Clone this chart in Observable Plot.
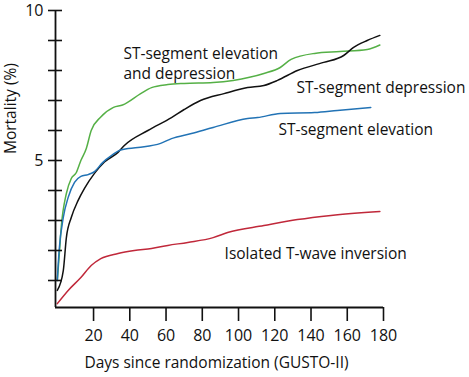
<!DOCTYPE html>
<html>
<head>
<meta charset="utf-8">
<script src="https://cdn.jsdelivr.net/npm/d3@7"></script>
<script src="https://cdn.jsdelivr.net/npm/@observablehq/plot@0.6"></script>
<style>
  html, body { margin: 0; padding: 0; background: #fff; }
  svg { display: block; }
</style>
</head>
<body>
<div id="chart"></div>
<script>
const FONT = "Open Sans";

// series: [day, mortality %]
const stElevDep = [
  [0, 1.0], [1, 1.8], [2.2, 2.8], [5, 3.9], [7.7, 4.4], [10.5, 4.6], [13, 5.0], [16, 5.4],
  [18.7, 6.0], [24, 6.45], [31, 6.77], [36, 6.85], [46, 7.23], [52, 7.43], [61, 7.53],
  [70, 7.57], [86, 7.6], [97, 7.67], [114, 7.9], [123, 8.1], [129, 8.37], [142, 8.57],
  [156, 8.63], [171, 8.7], [178, 8.85]
];
const stDep = [
  [0, 0.67], [3.3, 1.33], [5, 2.43], [7.7, 3.1], [11.5, 3.67], [15, 4.07], [20.5, 4.57],
  [26, 4.95], [33.5, 5.27], [37, 5.5], [50, 6.0], [63, 6.43], [70, 6.7], [79, 7.0],
  [92, 7.23], [105, 7.43], [114, 7.5], [121.5, 7.67], [132.5, 8.0], [147, 8.27],
  [158, 8.5], [163.5, 8.77], [171, 9.0], [178, 9.17]
];
const stElev = [
  [0, 1.0], [1, 2.0], [3.3, 3.1], [6, 3.77], [9.5, 4.27], [13, 4.47], [17, 4.53],
  [20.5, 4.63], [25, 4.93], [30, 5.17], [35, 5.35], [44.5, 5.43], [57, 5.57], [63, 5.73],
  [74, 5.9], [86, 6.1], [105, 6.4], [110.5, 6.43], [123, 6.57], [142, 6.6],
  [154.5, 6.67], [173, 6.77]
];
const tWave = [
  [0, 0.23], [6, 0.67], [13, 1.1], [18.7, 1.5], [24, 1.73], [33.5, 1.9], [42.5, 2.0],
  [52, 2.07], [61, 2.17], [72, 2.27], [86, 2.43], [94, 2.6], [114, 2.83], [132.5, 3.03],
  [151, 3.17], [178, 3.3]
];

const seriesNames = ["ST-segment elevation\nand depression", "ST-segment depression", "ST-segment elevation", "Isolated T-wave inversion"];
const seriesColors = ["#55b046", "#111111", "#2273b5", "#c0283a"];
const seriesData = [stElevDep, stDep, stElev, tWave];
// label anchor points [day, mortality]
const labelAnchors = [[36.5, 8.27], [132, 7.47], [122, 6.07], [92.3, 1.93]];

const xTicks = [20, 40, 60, 80, 100, 120, 140, 160, 180];
const yTicks = [1, 2, 3, 4, 5, 6, 7, 8, 9, 10];
const yTickLabels = [5, 10];
const xTitle = "Days since randomization (GUSTO-II)";
const yTitle = "Mortality (%)";

const rows = seriesData.flatMap((s, i) => s.map(([day, v]) => ({day, v, series: i})));
const labels = seriesNames.map((name, i) => ({name, day: labelAnchors[i][0], v: labelAnchors[i][1]}));

const chart = Plot.plot({
  width: 469,
  height: 377,
  marginTop: 10,
  marginLeft: 55,
  marginRight: 86,
  marginBottom: 70,
  style: {fontFamily: FONT, fontSize: "16px", color: "#111", background: "#fff"},
  x: {domain: [-1, 180], axis: null},
  y: {domain: [0.1, 10], axis: null},
  marks: [
    // curves
    ...seriesData.map((s, i) => Plot.line(rows.filter(d => d.series === i), {
      x: "day", y: "v", stroke: seriesColors[i], strokeWidth: 1.5, curve: "monotone-x"
    })),
    // axis lines
    Plot.ruleX([-1], {stroke: "#111", strokeWidth: 1.8}),
    Plot.ruleY([0.1], {stroke: "#111", strokeWidth: 1.8}),
    // y ticks crossing the axis
    Plot.ruleY(yTicks, {x1: -1, x2: -1, insetLeft: -7, insetRight: -7, stroke: "#111", strokeWidth: 1.6}),
    Plot.axisY(yTickLabels, {tickSize: 0, tickPadding: 12, fontSize: 16, stroke: null, label: null}),
    // x ticks
    Plot.axisX(xTicks, {tickSize: 14, tickPadding: 8, fontSize: 16, stroke: "#111", strokeWidth: 1.6, label: null}),
    // axis titles
    Plot.text([xTitle], {frameAnchor: "bottom", dy: 60, dx: -3, fontSize: 15.5}),
    Plot.text([yTitle], {frameAnchor: "left", dx: -44, dy: -5, rotate: -90, fontSize: 15.5}),
    // series labels
    Plot.text(labels, {x: "day", y: "v", text: "name", textAnchor: "start", lineHeight: 1.28, fontSize: 15.5, fill: "#111"})
  ]
});
document.getElementById("chart").appendChild(chart);
</script>
</body>
</html>
